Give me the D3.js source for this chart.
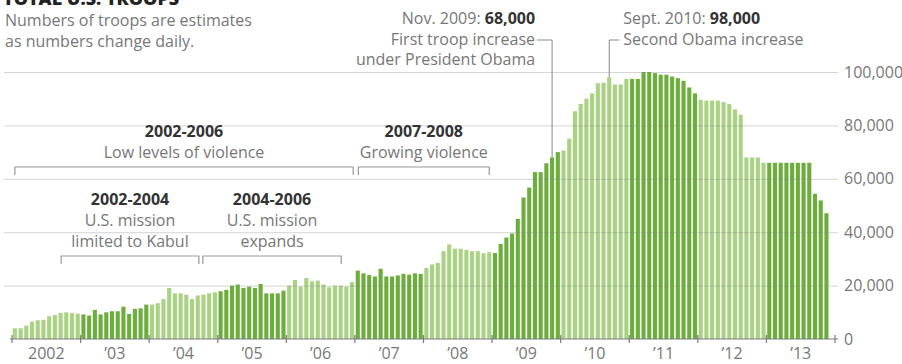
<!DOCTYPE html>
<html>
<head>
<meta charset="utf-8">
<script src="https://cdnjs.cloudflare.com/ajax/libs/d3/7.8.5/d3.min.js"></script>
<style>
body { margin: 0; background: #fff; }
text { font-family: "Open Sans", sans-serif; }
</style>
</head>
<body>
<div id="chart"></div>
<script>
// US troops in Afghanistan, monthly, Jan 2002 - Nov 2013
var years = [2002, 2003, 2004, 2005, 2006, 2007, 2008, 2009, 2010, 2011, 2012, 2013];
var yearLabels = ["2002", "\u201903", "\u201904", "\u201905", "\u201906", "\u201907", "\u201908", "\u201909", "\u201910", "\u201911", "\u201912", "\u201913"];

var troops = [
  4000, 4000, 5000, 6500, 7000, 7200, 8500, 9000, 9800, 10000, 9700, 9500,          // 2002
  9200, 8800, 10900, 9200, 10000, 10400, 10400, 12100, 9400, 11300, 11500, 12900,   // 2003
  12900, 13400, 15000, 19100, 17100, 17100, 16600, 15000, 16300, 16600, 17100, 17500, // 2004
  17900, 18400, 20000, 20400, 19100, 19600, 19100, 20600, 17100, 17100, 17100, 18100, // 2005
  20000, 22100, 19600, 22800, 21600, 21900, 20400, 19400, 20000, 20000, 19600, 21300, // 2006
  25600, 24600, 24000, 23400, 26300, 23400, 23400, 23800, 24400, 24100, 24600, 24400, // 2007
  26600, 27900, 28500, 32900, 35400, 33800, 33800, 33400, 32900, 32900, 32100, 32500, // 2008
  32200, 35600, 38000, 39500, 45000, 53000, 56700, 62500, 62500, 65800, 68000, 70000, // 2009
  70600, 75000, 85300, 88000, 90000, 92000, 95800, 96000, 98000, 95300, 95300, 97400, // 2010
  97400, 97400, 100000, 100000, 99600, 99000, 99000, 98300, 97700, 96700, 94200, 92000, // 2011
  89600, 89300, 89300, 89300, 88700, 88000, 86000, 84000, 68000, 68000, 68000, 66000, // 2012
  66000, 66000, 66000, 66000, 66000, 66000, 66000, 66000, 54400, 51900, 47100         // 2013
];

var yTicks = [0, 20000, 40000, 60000, 80000, 100000];

// brackets: span in months from Jan 2002, bold title, notes
var bracketSpans = [[0.5, 59.7], [60.6, 83.5], [8.6, 32.7], [33.4, 57.6]];
var bracketTitles = ["2002-2006", "2007-2008", "2002-2004", "2004-2006"];
var bracketNotes = [["Low levels of violence"], ["Growing violence"], ["U.S. mission", "limited to Kabul"], ["U.S. mission", "expands"]];
var bracketRow = [0, 0, 1, 1];

// callouts: month index, heading, bold figure, notes
var calloutMonth = [94, 104];
var calloutHead = ["Nov. 2009: ", "Sept. 2010: "];
var calloutFig = ["68,000", "98,000"];
var calloutNotes = [["First troop increase", "under President Obama"], ["Second Obama increase"]];

var width = 902, height = 364;
var light = "#a9d283", dark = "#6cae3b";
var fs = "16px";

var svg = d3.select("#chart").append("svg")
  .attr("width", width).attr("height", height);

var x = d3.scaleLinear().domain([0, 144]).range([12, 835]);
var y = d3.scaleLinear().domain([0, 100000]).range([339, 72]);
var step = x(1) - x(0);

// title (cut at the top) and subtitle
svg.append("text").attr("x", 3).attr("y", 5)
  .style("font-size", "18px").style("font-weight", "800").style("fill", "#222")
  .text("TOTAL U.S. TROOPS");
svg.append("text").attr("x", 5).attr("y", 26)
  .style("font-size", fs).style("fill", "#777")
  .text("Numbers of troops are estimates");
svg.append("text").attr("x", 5).attr("y", 47)
  .style("font-size", fs).style("fill", "#777")
  .text("as numbers change daily.");

// bars
svg.append("g").selectAll("rect")
  .data(troops)
  .enter().append("rect")
  .attr("x", function(d, i) { return x(i) + step * 0.14; })
  .attr("width", step * 0.72)
  .attr("y", function(d) { return y(d); })
  .attr("height", function(d) { return y(0) - y(d); })
  .style("fill", function(d, i) { return Math.floor(i / 12) % 2 == 0 ? light : dark; });

// grid lines and labels on the right
var yAxis = svg.append("g")
  .attr("transform", "translate(838,0)")
  .call(d3.axisRight(y).tickValues(yTicks).tickSize(-834).tickPadding(6).tickFormat(d3.format(",")));
yAxis.select(".domain").remove();
yAxis.selectAll(".tick line")
  .style("stroke", "#888").style("stroke-opacity", 0.35)
  .attr("display", function(d) { return d == 0 ? "none" : null; });
yAxis.selectAll(".tick text")
  .style("font-family", "'Open Sans', sans-serif").style("font-size", fs).style("fill", "#777");

// baseline and year ticks
svg.append("line")
  .attr("x1", 10).attr("x2", 838).attr("y1", y(0)).attr("y2", y(0))
  .style("stroke", "#7a7a80").style("stroke-width", 1.2);
svg.append("g").selectAll("line")
  .data(d3.range(0, 145, 12))
  .enter().append("line")
  .attr("x1", function(d) { return x(d); }).attr("x2", function(d) { return x(d); })
  .attr("y1", y(0) - 4).attr("y2", y(0) + 4)
  .style("stroke", "#7a7a80").style("stroke-width", 1.2);
svg.append("g").selectAll("text")
  .data(yearLabels)
  .enter().append("text")
  .attr("x", function(d, i) { return x(i * 12 + 6); })
  .attr("y", 359)
  .attr("text-anchor", "middle")
  .style("font-size", fs).style("fill", "#777")
  .text(function(d) { return d; });

// brackets
var rowY = [167, 256];
bracketSpans.forEach(function(s, i) {
  var by = rowY[bracketRow[i]];
  var x0 = x(s[0]), x1 = x(s[1]), cx = (x0 + x1) / 2;
  svg.append("path")
    .attr("d", "M" + x0 + "," + (by + 8) + "V" + by + "H" + x1 + "V" + (by + 8))
    .style("fill", "none").style("stroke", "#999").style("stroke-width", 1.2);
  var top = by - 30 - 21 * (bracketNotes[i].length - 1);
  svg.append("text").attr("x", cx).attr("y", top)
    .attr("text-anchor", "middle")
    .style("font-size", fs).style("font-weight", "bold").style("fill", "#333")
    .text(bracketTitles[i]);
  bracketNotes[i].forEach(function(t, j) {
    svg.append("text").attr("x", cx).attr("y", top + 21 * (j + 1))
      .attr("text-anchor", "middle")
      .style("font-size", fs).style("fill", "#777")
      .text(t);
  });
});

// callouts
calloutMonth.forEach(function(m, i) {
  var cx = x(m + 0.5);
  var vy = y(troops[m]);
  var right = i == 0;
  var tx = right ? cx - 17 : cx + 14;
  svg.append("path")
    .attr("d", "M" + cx + "," + vy + "V40H" + (right ? cx - 15 : cx + 10))
    .style("fill", "none").style("stroke", "#888").style("stroke-width", 1);
  var head = svg.append("text").attr("x", tx).attr("y", 24)
    .attr("text-anchor", right ? "end" : "start")
    .style("font-size", fs).style("fill", "#777");
  head.append("tspan").text(calloutHead[i]);
  head.append("tspan").style("font-weight", "bold").style("fill", "#333").text(calloutFig[i]);
  calloutNotes[i].forEach(function(t, j) {
    svg.append("text").attr("x", tx).attr("y", 45 + 20 * j)
      .attr("text-anchor", right ? "end" : "start")
      .style("font-size", fs).style("fill", "#777")
      .text(t);
  });
});
</script>
</body>
</html>
